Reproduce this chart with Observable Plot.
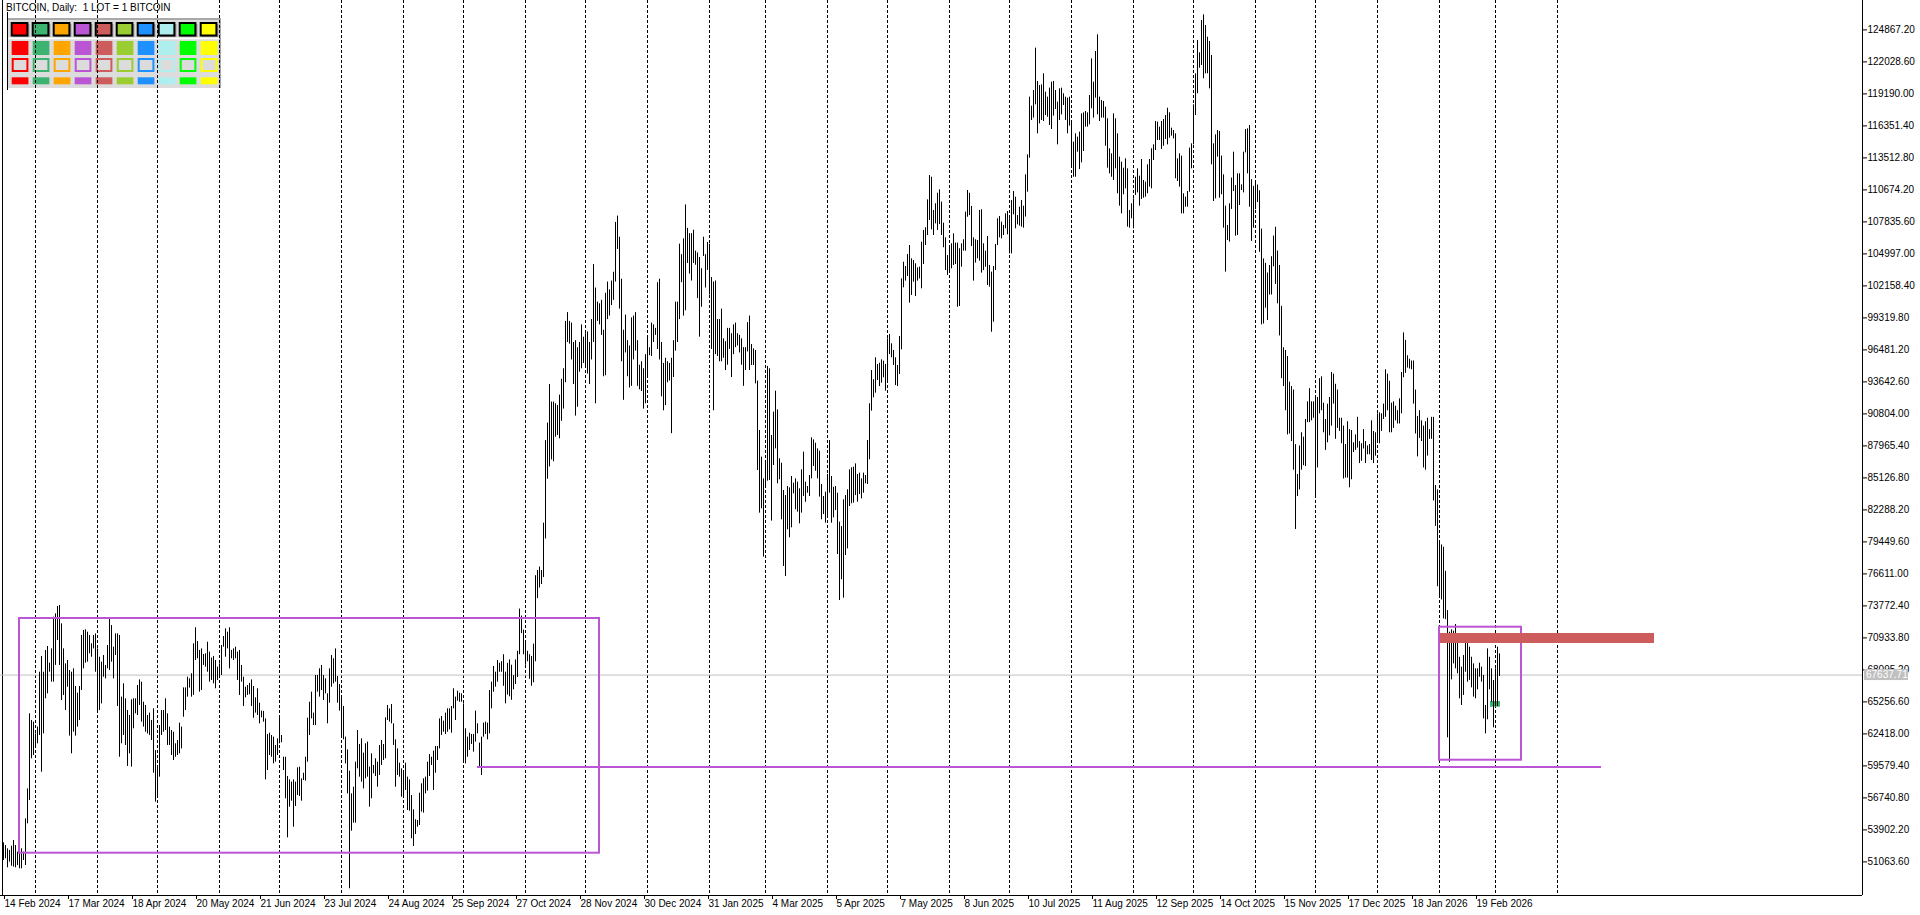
<!DOCTYPE html>
<html><head><meta charset="utf-8">
<script src="https://cdn.jsdelivr.net/npm/d3@7"></script>
<script src="https://cdn.jsdelivr.net/npm/@observablehq/plot@0.6"></script>
<style>
html,body{margin:0;padding:0;background:#fff;overflow:hidden}
#chart{position:relative;width:1920px;height:915px}
</style></head>
<body><div id="chart"></div>
<script>
// ---------- data ----------
const firstBarDate = "2024-02-14";          // one daily bar per calendar day
const priceUnit = 1000;                       // bar values below are in thousands
const barHigh = [
52.75,52.52,52.22,52.08,52.46,52.96,52.52,51.93,51.78,52.22,51.93,54.88,57.54,64.20,63.61,63.46,62.42,63.02,67.89,69.28,
67.89,69.82,70.17,68.69,69.96,72.77,73.07,73.72,73.81,72.18,69.96,68.63,68.93,68.04,67.89,68.19,66.62,66.03,66.62,71.15,
71.59,71.65,71.44,71.15,70.41,71.15,71.29,69.96,69.22,68.78,69.37,68.49,70.26,72.63,72.03,70.11,71.29,71.29,71.15,65.68,
66.86,65.53,64.49,64.05,65.44,65.53,65.53,66.71,67.21,67.01,65.23,64.94,64.05,64.26,63.61,64.64,60.94,59.47,63.16,64.49,
64.49,65.53,64.20,63.02,62.72,62.57,61.54,61.83,63.37,63.02,66.50,66.50,67.45,67.30,67.75,70.41,71.83,70.61,69.82,69.96,
69.46,69.52,70.55,69.67,69.14,69.28,68.93,68.34,68.63,70.26,71.06,71.74,71.44,71.83,69.82,69.96,70.11,69.67,69.82,68.49,
67.45,66.56,66.71,66.90,
67.21,66.62,65.62,66.42,65.14,64.44,64.41,63.75,62.37,62.48,62.28,62.13,61.39,61.98,63.96,62.28,60.35,60.35,58.64,58.34,
58.14,58.34,58.14,59.41,59.47,58.43,58.93,60.35,63.81,65.23,66.12,64.26,67.60,67.60,68.19,68.49,67.60,67.30,65.97,68.19,
69.37,69.08,69.96,67.51,66.80,65.62,64.85,62.13,61.00,59.11,57.10,57.69,59.91,62.72,61.48,61.98,60.71,61.54,61.69,59.47,
60.65,59.62,60.21,59.91,61.39,61.83,61.48,63.84,64.94,64.64,65.03,63.31,61.89,61.09,59.82,59.32,59.17,59.82,58.58,58.34,
56.95,55.68,54.80,54.74,57.16,57.99,58.43,58.58,59.91,60.59,60.35,60.89,61.30,61.30,63.75,63.96,63.55,64.26,64.64,64.64,
64.85,66.42,65.68,66.21,66.03,65.97,65.08,62.87,62.13,62.48,62.37,62.37,64.44,63.31,61.60,62.13,63.37,63.46,63.37,66.27,
67.01,68.40,67.89,68.93,68.69,
68.82,69.44,67.89,68.67,68.98,68.51,67.58,68.98,69.75,73.49,72.87,71.62,70.69,69.75,69.44,69.29,70.38,76.45,76.91,77.22,
76.91,81.11,88.43,89.99,93.41,91.85,91.85,91.70,91.54,92.47,93.88,94.81,99.01,99.79,99.01,98.86,97.14,97.30,96.68,97.14,
98.70,97.61,97.92,98.08,97.14,99.17,104.05,101.97,100.72,100.57,100.88,98.23,101.50,102.50,101.81,102.59,103.37,107.79,108.35,106.48,
102.75,98.23,99.57,97.30,96.83,99.32,99.48,99.79,97.30,95.12,95.43,94.81,96.06,97.61,96.68,98.86,98.70,98.39,102.44,102.75,
97.14,95.28,95.74,95.43,95.28,95.74,97.30,100.72,100.72,105.86,104.93,106.33,109.34,107.26,106.79,106.79,107.10,105.24,105.08,104.68,
103.68,106.48,104.93,106.01,105.86,102.90,102.50,102.59,99.17,99.17,100.10,97.46,97.21,98.39,98.39,97.92,98.70,98.86,97.92,97.77,
97.46,96.68,96.68,98.90,99.48,
96.96,96.57,96.43,93.71,89.33,86.97,85.04,86.52,95.01,94.80,88.89,90.96,92.82,91.16,86.82,86.43,84.01,83.56,84.36,84.24,
85.25,84.66,85.04,84.75,84.16,85.84,87.41,84.75,84.36,85.34,88.68,88.50,88.20,87.70,87.50,84.54,83.48,83.86,85.43,88.44,
85.25,84.30,84.36,83.77,81.20,80.81,83.18,83.56,84.07,85.84,86.02,86.08,86.37,85.43,85.55,85.04,85.55,85.34,88.44,91.70,
94.65,93.83,95.78,95.19,95.30,95.60,95.48,95.19,97.46,97.85,97.02,96.43,95.78,95.10,97.67,102.78,104.26,103.88,104.94,105.74,
104.56,104.41,104.12,103.76,103.82,106.04,107.07,107.31,109.79,111.95,111.80,108.85,109.44,110.38,110.68,109.59,107.72,106.42,104.85,105.54,
105.89,106.78,105.95,105.95,105.45,105.89,106.25,108.70,110.62,110.38,109.20,106.42,106.25,106.19,108.85,108.91,105.89,105.24,106.54,103.97,
103.38,103.88,105.83,108.11,108.31,
107.81,107.52,108.55,108.76,108.11,109.73,110.53,110.03,108.40,109.14,109.73,109.23,112.01,113.78,118.90,118.10,119.49,123.25,120.29,119.93,
119.99,120.97,119.34,118.90,119.70,120.23,120.29,119.49,118.46,119.64,119.70,119.20,118.90,118.81,118.90,116.83,114.91,115.65,115.35,115.80,
117.42,117.51,117.63,117.51,119.05,122.30,120.23,122.95,124.43,118.90,118.60,118.52,118.01,116.98,114.32,113.87,117.42,116.98,115.65,113.58,
113.13,112.60,113.43,112.54,108.85,109.44,109.88,111.80,112.54,111.89,113.37,111.51,111.36,112.90,113.37,114.32,114.67,116.74,116.68,116.24,
116.74,116.92,117.27,117.92,117.51,116.15,115.94,115.65,113.43,113.87,113.67,110.33,110.03,110.53,114.38,114.76,118.22,120.97,123.93,122.83,
125.70,126.20,125.26,124.22,123.84,122.60,114.76,115.56,115.94,115.86,113.67,112.01,109.23,107.52,109.44,111.72,114.02,111.06,112.10,112.10,
111.12,114.02,116.03,116.09,116.39,
111.58,110.99,111.38,111.11,110.60,107.20,104.55,104.16,103.30,103.97,104.75,106.58,107.36,105.25,103.97,100.34,96.67,96.43,95.89,93.62,
93.23,92.92,88.08,85.43,87.96,89.13,88.74,90.31,91.87,93.04,91.87,91.87,92.22,92.26,93.93,94.09,91.75,90.31,91.67,92.26,
94.48,94.33,93.43,92.92,90.42,90.42,89.72,88.08,90.11,89.41,89.33,88.24,88.94,90.50,88.35,88.16,89.41,88.35,87.96,88.08,
90.19,89.25,89.13,90.81,90.89,90.81,91.67,94.72,94.33,93.70,91.75,91.87,91.48,91.09,92.14,94.48,97.99,97.33,95.96,95.65,
95.50,95.50,92.92,90.58,91.09,90.19,89.72,90.11,90.42,89.41,90.50,90.50,84.45,84.06,79.37,79.18,78.98,76.84,
73.36,71.44,71.65,71.53,72.12,70.64,69.22,68.34,69.37,70.47,70.94,70.11,69.22,68.63,68.19,68.19,68.69,68.34,67.60,64.94,
69.96,69.22,68.19,67.15,68.19,70.11,69.52
];
const barLow = [
51.19,51.34,50.54,51.04,50.68,50.60,50.54,50.74,50.45,50.45,51.19,50.74,54.44,56.51,60.21,60.50,61.24,61.54,62.28,59.02,
62.42,65.53,65.97,67.89,67.01,67.01,68.49,70.70,68.49,65.38,65.83,64.49,66.56,62.22,60.65,62.57,62.22,63.02,63.61,66.27,
68.19,68.69,68.78,69.52,69.22,69.96,67.89,64.35,64.49,65.08,67.45,67.30,68.19,68.04,68.78,67.30,69.37,64.85,60.35,61.54,
62.28,61.39,59.53,60.65,59.47,62.87,64.20,64.05,64.94,63.46,63.02,62.57,62.42,62.28,61.83,58.93,56.36,56.81,58.58,62.28,
62.57,62.72,61.39,61.39,60.50,60.06,60.35,60.50,60.65,61.09,63.90,64.49,65.68,66.48,65.68,65.83,68.93,69.08,66.12,66.27,
68.49,68.34,67.89,67.01,67.16,66.86,66.42,67.16,67.45,67.60,70.11,69.22,69.96,68.19,69.08,68.93,69.08,67.16,65.83,67.01,
64.85,65.62,65.83,65.90,
64.85,63.81,64.26,64.05,63.31,63.84,63.46,58.34,59.17,60.50,60.35,59.76,59.91,60.50,61.54,61.63,59.17,56.66,53.20,55.92,
56.45,54.14,55.98,56.95,56.87,56.45,58.28,58.23,59.91,62.28,63.75,63.16,63.16,66.12,65.68,66.27,65.38,65.97,63.31,65.14,
66.56,66.86,67.01,65.14,64.44,62.19,61.89,59.76,57.10,48.68,53.79,54.50,54.50,59.32,58.58,58.14,57.54,58.43,58.58,55.92,
56.66,58.88,58.64,57.69,58.73,59.62,60.06,60.21,63.61,63.46,63.31,61.39,57.69,58.73,58.58,56.81,56.95,57.40,55.62,55.56,
53.11,52.43,53.49,54.14,54.29,55.48,55.39,57.10,57.34,58.64,59.62,57.40,58.93,60.06,61.09,62.28,62.57,62.37,62.57,62.78,
62.48,64.64,63.61,65.32,65.23,65.23,59.91,59.76,60.35,60.95,61.48,60.80,61.69,62.42,59.47,58.73,62.13,62.37,61.89,62.42,
64.64,66.12,66.56,67.01,67.89,
67.89,66.64,65.08,65.86,65.71,65.40,66.33,66.80,67.42,69.44,71.31,69.44,68.51,68.82,67.26,66.64,66.95,68.82,74.42,75.36,
75.67,76.29,79.71,85.01,86.10,86.72,86.56,88.74,88.89,88.59,90.14,91.23,93.57,97.14,96.99,95.59,93.41,90.61,91.39,94.50,
94.81,95.28,94.97,94.34,93.41,95.59,97.14,91.70,99.01,98.70,97.77,94.10,94.19,99.17,99.48,100.41,100.88,102.50,105.39,100.10,
95.43,92.01,96.21,94.10,93.10,93.25,95.59,96.37,93.25,92.94,92.79,91.23,91.70,94.03,95.96,95.90,97.14,97.77,96.52,95.59,
92.32,91.08,91.54,93.57,93.72,89.05,94.03,96.37,97.14,99.17,102.44,99.48,99.95,104.15,103.21,102.59,104.15,103.99,101.03,97.61,
100.26,104.77,101.97,103.53,101.35,96.52,91.08,96.06,95.90,95.43,95.43,95.74,94.65,95.12,96.52,94.03,96.06,96.68,96.83,96.21,
95.12,93.25,94.65,96.30,94.65,
95.10,95.10,93.47,85.78,82.00,82.38,78.10,84.30,84.84,84.90,81.29,86.23,87.70,84.60,84.96,81.41,77.27,76.38,80.52,79.81,
80.70,83.71,82.30,82.09,81.05,82.00,83.48,82.97,83.77,83.48,85.04,86.14,85.72,85.04,83.42,81.41,81.88,81.11,81.79,83.77,
81.11,81.58,82.23,78.33,74.25,76.09,74.46,78.24,78.83,82.59,82.83,82.89,83.56,82.97,83.65,83.27,83.77,84.60,84.54,86.73,
91.05,92.23,92.64,93.77,93.23,93.53,94.00,92.82,93.77,96.07,95.78,95.10,93.32,93.23,94.30,96.49,101.99,102.58,102.99,100.63,
101.31,102.49,101.22,102.58,102.78,101.90,104.06,105.74,106.63,107.96,107.13,106.63,107.66,107.07,107.60,106.63,105.54,103.52,103.08,103.52,
103.67,103.97,104.06,100.27,100.33,103.82,105.24,105.24,108.25,108.40,105.65,102.58,104.18,104.56,104.35,103.29,103.52,103.82,102.19,102.05,
98.05,98.94,103.52,105.74,106.42,
106.33,106.63,107.22,106.69,105.00,105.00,108.46,107.22,107.57,107.46,107.37,107.28,108.26,110.47,113.49,116.83,117.04,118.22,115.65,116.53,
116.83,116.74,117.27,117.12,116.39,116.03,117.22,117.81,114.67,116.83,117.33,118.16,116.83,115.65,116.33,112.69,111.80,111.80,114.02,112.48,
113.07,114.08,116.24,116.24,116.45,117.87,117.04,118.81,117.33,116.74,117.04,117.04,114.55,112.60,112.10,111.80,111.51,112.54,110.33,109.23,
108.55,110.24,110.77,107.37,107.28,108.11,107.22,110.18,110.41,109.23,109.82,109.94,110.03,110.33,110.92,110.77,113.28,114.17,115.06,115.06,
114.26,114.55,115.15,114.67,115.26,115.44,115.20,111.66,111.42,110.92,108.55,108.55,109.14,109.14,110.47,112.54,114.67,117.27,119.20,121.47,
121.71,120.53,120.97,120.97,119.64,112.90,109.64,109.88,113.58,109.94,110.24,107.28,103.38,106.19,106.04,108.94,110.53,106.57,106.63,109.29,
110.62,110.41,113.96,112.10,109.14,
106.11,107.28,108.92,109.55,105.14,98.70,98.78,100.18,99.09,101.35,101.35,103.85,102.29,100.57,97.72,93.93,93.23,91.08,88.94,89.02,
88.35,85.81,80.55,83.47,84.06,85.81,86.21,86.13,90.03,90.03,90.19,90.42,83.47,86.01,90.81,91.08,89.13,87.57,88.24,88.86,
89.72,91.67,88.55,89.52,89.25,88.16,85.03,85.11,85.11,84.25,84.96,87.38,87.57,87.77,86.40,86.60,87.69,86.40,87.18,87.18,
86.67,86.40,87.06,88.35,88.16,89.25,90.31,90.50,91.08,89.13,89.13,89.52,90.19,89.91,89.91,90.81,94.01,94.40,94.87,94.79,
94.72,91.67,89.02,86.99,88.63,88.35,86.01,85.81,87.06,88.55,88.55,83.08,80.82,75.47,74.50,74.30,72.62,72.55,
62.07,59.90,67.21,68.63,68.19,67.75,65.53,64.94,65.83,67.89,67.01,67.16,66.50,65.68,65.53,66.33,67.45,67.01,63.75,62.42,
63.67,66.33,65.23,62.96,64.85,64.85,67.51
];
const lastPrice = 67637.71;
const yTickValues = [51063.60,53902.20,56740.80,59579.40,62418.00,65256.60,68095.20,70933.80,73772.40,76611.00,79449.60,
  82288.20,85126.80,87965.40,90804.00,93642.60,96481.20,99319.80,102158.40,104997.00,107835.60,110674.20,113512.80,
  116351.40,119190.00,122028.60,124867.20];
const xTickDates = ["2024-02-14","2024-03-17","2024-04-18","2024-05-20","2024-06-21","2024-07-23","2024-08-24","2024-09-25",
  "2024-10-27","2024-11-28","2024-12-30","2025-01-31","2025-03-04","2025-04-05","2025-05-07","2025-06-08","2025-07-10",
  "2025-08-11","2025-09-12","2025-10-14","2025-11-15","2025-12-17","2026-01-18","2026-02-19"];
const monthStarts = ["2024-03-01","2024-04-01","2024-05-01","2024-06-01","2024-07-01","2024-08-01","2024-09-01","2024-10-01",
  "2024-11-01","2024-12-01","2025-01-01","2025-02-01","2025-03-01","2025-04-01","2025-05-01","2025-06-01","2025-07-01",
  "2025-08-01","2025-09-01","2025-10-01","2025-11-01","2025-12-01","2026-01-01","2026-02-01","2026-03-01","2026-04-01"];
const rangeBoxes = [
  {start: "2024-02-22", end: "2024-12-08", top: 72655, bottom: 51836},
  {start: "2026-02-01", end: "2026-03-14", top: 71883, bottom: 60085}
];
const supportLine = [{start: "2024-10-08", end: "2026-04-23", price: 59473}];
const resistanceZone = [{start: "2026-02-01T12:00Z", end: "2026-05-19T12:00Z", top: 71325, bottom: 70438}];
const entryMarker = [{start: "2026-02-26T12:00Z", end: "2026-03-03T12:00Z", top: 65292, bottom: 64786}];
const panelColors = ["#FF0000","#3CB371","#FFA500","#BA55D3","#CD5C5C","#9ACD32","#1E90FF","#AFEEEE","#00FF00","#FFFF00"];
const titleText = "BITCOIN, Daily:  1 LOT = 1 BITCOIN";

// ---------- layout ----------
const W = 1920, H = 915, mRight = 58, mBottom = 20;
const DAY = 864e5;
const t0 = new Date(firstBarDate).getTime();
const xDomain = [new Date(t0 - 1.5 * DAY), new Date(t0 + 929.5 * DAY)];
const yDomain = [48083, 127475];
const FONT = "'Liberation Sans', Arial, sans-serif";

const bars = barHigh.map((h, i) => ({date: new Date(t0 + i * DAY), high: h * priceUnit, low: barLow[i] * priceUnit}));
const D = s => new Date(s);

const plot = Plot.plot({
  width: W, height: H,
  marginLeft: 0, marginRight: mRight, marginTop: 0, marginBottom: mBottom,
  style: {fontFamily: FONT, fontSize: "10px", background: "#fff", color: "#000", overflow: "visible"},
  x: {type: "utc", domain: xDomain},
  y: {domain: yDomain},
  marks: [
    Plot.ruleX(monthStarts, {x: D, stroke: "#000", strokeWidth: 1, strokeDasharray: "3,2"}),
    Plot.ruleY([lastPrice], {stroke: "#c0c0c0", strokeWidth: 1}),
    Plot.rect(entryMarker, {x1: d => D(d.start), x2: d => D(d.end), y1: "bottom", y2: "top", fill: "#3CB371"}),
    Plot.ruleX(bars, {x: "date", y1: "low", y2: "high", stroke: "#000", strokeWidth: 1}),
    Plot.rect(rangeBoxes, {x1: d => D(d.start), x2: d => D(d.end), y1: "bottom", y2: "top", fill: "none", stroke: "#BA55D3", strokeWidth: 2}),
    Plot.ruleY(supportLine, {y: "price", x1: d => D(d.start), x2: d => D(d.end), stroke: "#BA55D3", strokeWidth: 2}),
    Plot.rect(resistanceZone, {x1: d => D(d.start), x2: d => D(d.end), y1: "bottom", y2: "top", fill: "#CD5C5C"}),
    Plot.ruleY([yDomain[0]], {stroke: "#000"}),
    Plot.ruleX([xDomain[1]], {stroke: "#000"}),
    Plot.axisY({anchor: "right", ticks: yTickValues, tickFormat: d => d.toFixed(2), tickSize: 4, tickPadding: 1, label: null, fontSize: 10}),
    Plot.axisX({anchor: "bottom", ticks: xTickDates.map(D), tickFormat: d3.utcFormat("%-d %b %Y"), tickSize: 4, tickPadding: 0,
      textAnchor: "start", dx: 1, label: null, fontSize: 10})
  ]
});
document.getElementById("chart").appendChild(plot);

// ---------- overlays: colour panel, title, last-price tag ----------
const svg = d3.select(plot);
const deco = svg.insert("g", ":first-child");
const px0 = 8, py0 = 18, pitch = 21, sw = 16.7;
deco.append("rect").attr("x", px0).attr("y", py0).attr("width", 213).attr("height", 70).attr("fill", "#dcdcdc");
deco.append("line").attr("x1", px0).attr("x2", px0 + 213).attr("y1", py0 + 1).attr("y2", py0 + 1).attr("stroke", "#a9a9a9").attr("stroke-width", 2);
deco.append("line").attr("x1", px0 + 212).attr("x2", px0 + 212).attr("y1", py0).attr("y2", py0 + 70).attr("stroke", "#a9a9a9").attr("stroke-width", 2);
deco.append("line").attr("x1", px0).attr("x2", px0 + 211).attr("y1", py0 + 20.5).attr("y2", py0 + 20.5).attr("stroke", "#fff").attr("stroke-width", 1.5);
panelColors.forEach((c, k) => {
  const x = px0 + 3.7 + k * pitch;
  deco.append("rect").attr("x", x + 1).attr("y", py0 + 6).attr("width", sw).attr("height", 13).attr("fill", "#9a9a9a");
  deco.append("rect").attr("x", x).attr("y", py0 + 5).attr("width", sw - 1).attr("height", 12.5).attr("fill", c).attr("stroke", "#000").attr("stroke-width", 2);
  deco.append("rect").attr("x", x).attr("y", py0 + 23).attr("width", sw).attr("height", 14).attr("fill", c);
  deco.append("rect").attr("x", x + 1).attr("y", py0 + 41).attr("width", sw - 2).attr("height", 12).attr("fill", "#dcdcdc").attr("stroke", c).attr("stroke-width", 2);
  deco.append("rect").attr("x", x).attr("y", py0 + 59.3).attr("width", sw).attr("height", 7).attr("fill", c);
});
deco.append("text").attr("x", 6).attr("y", 11).attr("text-anchor", "start").attr("font-family", FONT).attr("font-size", 10).attr("fill", "#000").text(titleText);
deco.append("line").attr("x1", 2.5).attr("x2", 2.5).attr("y1", 0).attr("y2", H - mBottom).attr("stroke", "#000");
deco.append("line").attr("x1", 7.5).attr("x2", 7.5).attr("y1", 12).attr("y2", 90).attr("stroke", "#000");

const py = plot.scale("y").apply(lastPrice);
const tagX = W - mRight + 2;
svg.append("rect").attr("x", tagX).attr("y", py - 5.5).attr("width", 44).attr("height", 11).attr("fill", "#c0c0c0");
svg.append("text").attr("x", tagX + 2).attr("y", py + 3.6).attr("text-anchor", "start").attr("font-family", FONT).attr("font-size", 10).attr("fill", "#fff").text(lastPrice.toFixed(2));
</script></body></html>
